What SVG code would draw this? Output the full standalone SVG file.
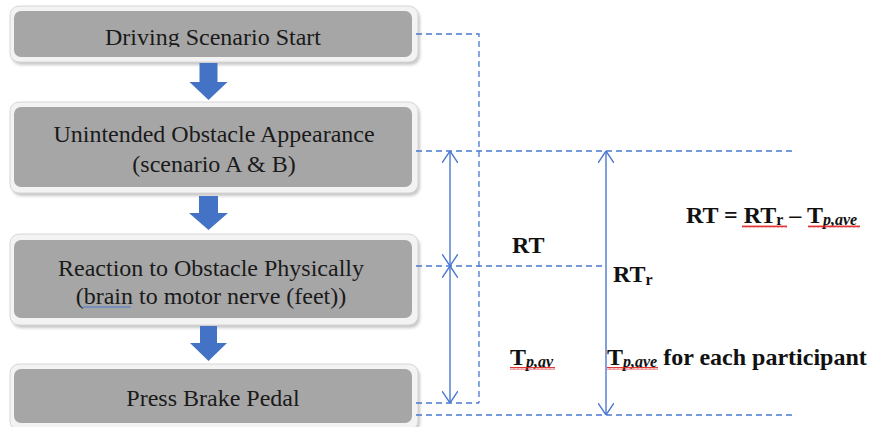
<svg xmlns="http://www.w3.org/2000/svg" width="871" height="427" viewBox="0 0 871 427">
<style>
.outer{fill:#f3f3f3;stroke:#d6d6d6;stroke-width:1}
.shadow{fill:#9a9a9a;opacity:0.55}
.inner{fill:#a6a6a6}
.lbl{font-family:"Liberation Serif","Times New Roman",serif;font-size:24px;fill:#1a1a1a;text-anchor:middle}
.math{font-family:"Liberation Serif","Times New Roman",serif;font-size:24px;font-weight:bold;fill:#111}
.sub{font-size:16px}
.isub{font-size:16px;font-style:italic}
.dash{fill:none;stroke:#4a78d0;stroke-width:1.3;stroke-dasharray:6 4}
.solid{fill:none;stroke:#4a78d0;stroke-width:1.4}
.blk{fill:#4472c4}
</style>
<defs>
<filter id="blur" x="-5%" y="-20%" width="110%" height="140%"><feGaussianBlur stdDeviation="1.5"/></filter>
<marker id="v" viewBox="0 0 12 16" refX="12" refY="8" markerWidth="12" markerHeight="16" markerUnits="userSpaceOnUse" orient="auto-start-reverse">
<path d="M0,0 L12,8 L0,16" fill="none" stroke="#4a78d0" stroke-width="1.4"/>
</marker>
<pattern id="wave" width="4" height="3" patternUnits="userSpaceOnUse">
<path d="M0,2.5 L1,0.5 L2,2.5 L3,0.5 L4,2.5" fill="none" stroke="#e02020" stroke-width="0.9"/>
</pattern>
<clipPath id="clip1"><rect x="14" y="11" width="398" height="36"/></clipPath>
</defs>
<rect width="871" height="427" fill="#ffffff"/>

<g id="node1">
<rect class="shadow" x="12" y="9" width="408" height="56" rx="9" filter="url(#blur)"/>
<rect class="outer" x="10" y="6" width="408" height="56" rx="9"/>
<rect class="inner" x="14" y="11" width="398" height="46" rx="7"/>
<text class="lbl" x="213" y="45" clip-path="url(#clip1)">Driving Scenario Start</text>
</g>

<g id="node2">
<rect class="shadow" x="12" y="105" width="408" height="91" rx="9" filter="url(#blur)"/>
<rect class="outer" x="10" y="102" width="408" height="91" rx="9"/>
<rect class="inner" x="14" y="107" width="398" height="80" rx="7"/>
<text class="lbl" x="214" y="142">Unintended Obstacle Appearance</text>
<text class="lbl" x="214" y="172">(scenario  A &amp; B)</text>
</g>

<g id="node3">
<rect class="shadow" x="12" y="237" width="408" height="91" rx="9" filter="url(#blur)"/>
<rect class="outer" x="10" y="234" width="408" height="91" rx="9"/>
<rect class="inner" x="14" y="240" width="398" height="78" rx="7"/>
<text class="lbl" x="211" y="276">Reaction to Obstacle Physically</text>
<text class="lbl" x="211" y="304">(brain to motor nerve (feet))</text>
<line x1="83" y1="307" x2="131" y2="307" stroke="#4a78d0" stroke-width="1.2"/>
</g>

<g id="node4">
<rect class="shadow" x="12" y="367" width="408" height="66" rx="9" filter="url(#blur)"/>
<rect class="outer" x="10" y="364" width="408" height="66" rx="9"/>
<rect class="inner" x="14" y="369" width="398" height="54" rx="7"/>
<text class="lbl" x="213" y="406">Press Brake Pedal</text>
</g>

<g id="connectors">
<polygon class="blk" points="199.5,63 217.5,63 217.5,82 227.5,82 208.5,100 189.5,82 199.5,82"/>
<polygon class="blk" points="199,196 218,196 218,213 228,213 208.5,230 189,213 199,213"/>
<polygon class="blk" points="200,326 217,326 217,343 227,343 208.5,361 190,343 200,343"/>

<path class="dash" d="M416 34 H479 V403"/>
<path class="dash" d="M416 151 H793"/>
<path class="dash" d="M416 266 H604"/>
<path class="dash" d="M416 403 H479"/>
<path class="dash" d="M416 415 H793"/>

<line class="solid" x1="450" y1="151" x2="450" y2="266" marker-start="url(#v)" marker-end="url(#v)"/>
<line class="solid" x1="450" y1="266" x2="450" y2="403" marker-start="url(#v)" marker-end="url(#v)"/>
<line class="solid" x1="606" y1="151" x2="606" y2="415" marker-start="url(#v)" marker-end="url(#v)"/>
</g>

<g id="labels">
<text class="math" x="686" y="223">RT = RT<tspan class="sub" dy="2">r</tspan><tspan dy="-2"> – T</tspan><tspan class="isub" dy="2">p,ave</tspan></text>
<rect x="742" y="225" width="45" height="3" fill="url(#wave)"/>
<rect x="808" y="225" width="52" height="3" fill="url(#wave)"/>

<text class="math" x="512" y="253">RT</text>
<text class="math" x="613" y="282">RT<tspan class="sub" dy="3">r</tspan></text>

<text class="math" x="510" y="365">T<tspan class="isub" dy="2">p,av</tspan></text>
<rect x="510" y="367" width="45" height="3" fill="url(#wave)"/>

<text class="math" x="607" y="365">T<tspan class="isub" dy="2">p,ave</tspan><tspan dy="-2"> for each participant</tspan></text>
<rect x="607" y="367" width="51" height="3" fill="url(#wave)"/>
</g>
</svg>
